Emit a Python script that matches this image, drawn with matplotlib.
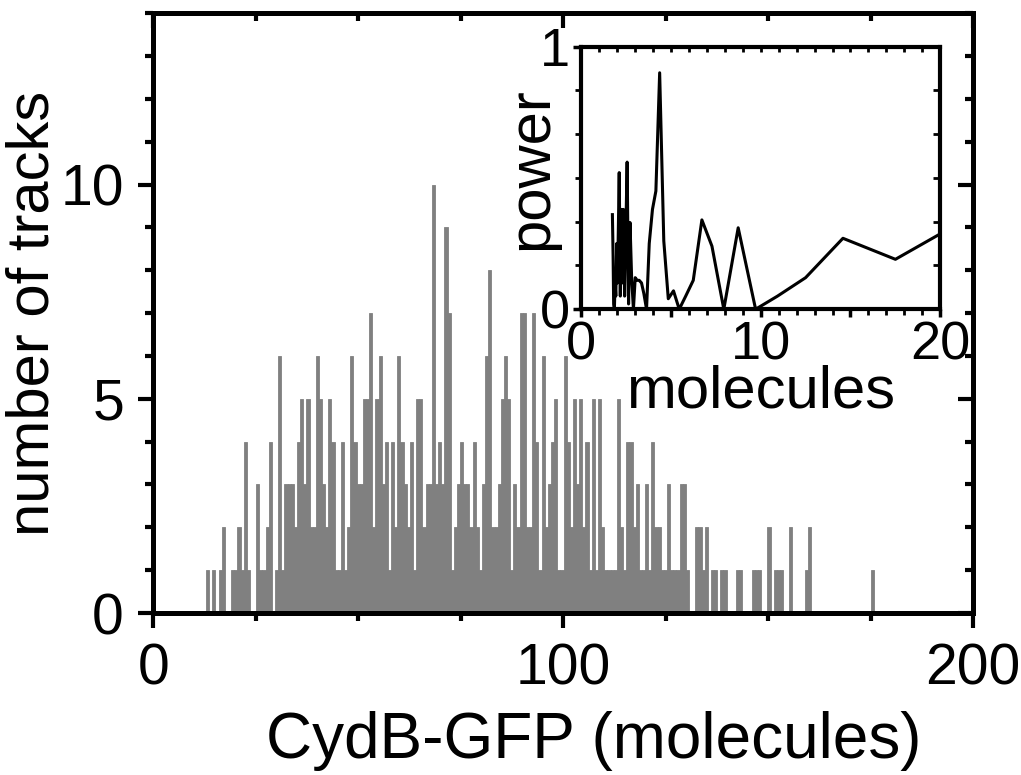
import matplotlib
matplotlib.use("Agg")
import matplotlib.pyplot as plt
import numpy as np

plt.rcParams['font.family'] = ['Liberation Sans', 'DejaVu Sans']

# histogram: counts per bin, bins start at 12.9 molecules, 0.765 wide
bin_start = 12.9
bin_width = 0.765
track_counts = [
    1, 0, 1, 0, 1, 2, 0, 0, 1, 1, 2, 1, 4, 1, 0, 0, 3, 1, 1, 2, 4, 0, 1, 6, 1,
    3, 3, 3, 2, 4, 5, 3, 5, 2, 2, 6, 5, 3, 2, 5, 4,
    1, 1, 4, 1, 2, 6, 4, 3, 3, 5, 5, 7, 2, 5, 6, 3, 4, 1, 4, 2, 6, 4, 3, 2, 4,
    1, 5, 5, 2, 3, 3, 10, 3, 4, 3, 9, 7, 1, 2, 3, 4, 3, 3,
    2, 4, 2, 1, 3, 6, 8, 2, 2, 3, 5, 6, 5, 1, 3, 2, 7, 7, 2, 2, 7, 4, 1, 6, 2,
    3, 4, 5, 1, 1, 6, 4, 2, 5, 3, 5, 2, 4, 1, 5, 1, 5, 2, 1,
    1, 1, 1, 5, 2, 1, 4, 4, 2, 3, 1, 1, 3, 1, 4, 2, 2, 1, 1, 3, 1, 1, 1, 3, 3,
    1, 0, 0, 2, 2, 1, 2, 0, 1, 1, 0, 1, 1, 0, 0, 0, 1, 1, 0, 0, 0, 1, 1, 1, 0,
    0, 2, 0, 1, 1, 1, 0, 0, 2, 0, 0, 0, 0, 1, 2,
    0, 0, 0, 0, 0, 0, 0, 0, 0, 0, 0, 0, 0, 0, 0, 0, 0, 0, 0, 1,
]

# inset: power spectrum
power_x = [1.75, 1.79, 1.82, 1.86, 1.90, 1.94, 1.99, 2.03, 2.08, 2.13, 2.19,
           2.24, 2.30, 2.36, 2.43, 2.50, 2.57, 2.65, 2.73, 2.82, 2.92, 3.02,
           3.13, 3.24, 3.37, 3.50, 3.65, 3.80, 3.98, 4.17, 4.38, 4.61, 4.86,
           5.15, 5.47, 5.83, 6.25, 6.73, 7.29, 7.95, 8.75, 9.72, 10.94, 12.50,
           14.58, 17.50, 21.88]
power_y = [0.36, 0.20, 0.02, 0.00, 0.10, 0.05, 0.25, 0.10, 0.30, 0.52, 0.05,
           0.38, 0.10, 0.38, 0.05, 0.30, 0.56, 0.02, 0.33, 0.12, 0.00, 0.12,
           0.11, 0.11, 0.10, 0.06, 0.00, 0.25, 0.38, 0.45, 0.90, 0.26, 0.04,
           0.07, 0.00, 0.05, 0.11, 0.34, 0.24, 0.00, 0.31, 0.00, 0.05, 0.12,
           0.27, 0.19, 0.36]

fig = plt.figure(figsize=(10.21, 7.75), dpi=100)

# main histogram
ax = fig.add_axes([0.150, 0.209, 0.803, 0.774])
left_edges = bin_start + bin_width * np.arange(len(track_counts))
ax.bar(left_edges, track_counts, width=bin_width, align='edge',
       color='#808080', edgecolor='#808080', linewidth=0.6, zorder=1)
ax.set_xlim(0, 200)
ax.set_ylim(0, 14)
for s in ax.spines.values():
    s.set_linewidth(3.6)
    s.set_zorder(5)

ax.set_xticks([0, 100, 200])
ax.set_xticks(np.arange(0, 201, 25), minor=True)
ax.set_yticks([0, 5, 10])
ax.set_yticks(np.arange(0, 15, 1), minor=True)
ax.tick_params(which='major', direction='out', length=11, width=3, labelsize=41, pad=10)
ax.tick_params(which='minor', direction='out', length=6, width=3)

# top/right ticks point inward
top = ax.secondary_xaxis('top')
top.set_xticks([0, 100, 200], labels=[])
top.set_xticks(np.arange(0, 201, 25), minor=True)
top.tick_params(which='major', direction='in', length=11, width=3)
top.tick_params(which='minor', direction='in', length=6, width=3)
top.spines['top'].set_visible(False)
right = ax.secondary_yaxis('right')
right.set_yticks([0, 5, 10], labels=[])
right.set_yticks(np.arange(0, 15, 1), minor=True)
right.tick_params(which='major', direction='in', length=11, width=3)
right.tick_params(which='minor', direction='in', length=6, width=3)
right.spines['right'].set_visible(False)

ax.set_xlabel("CydB-GFP (molecules)", fontsize=46, labelpad=11)
ax.xaxis.label.set_x(0.537)
ax.set_ylabel("number of tracks", fontsize=43, labelpad=0)

# inset
ins = fig.add_axes([0.569, 0.601, 0.352, 0.339])
ins.plot(power_x, power_y, color='black', linewidth=2.2)
ins.set_xlim(0, 20)
ins.set_ylim(0, 1)
for s in ins.spines.values():
    s.set_linewidth(3)
ins.set_xticks([0, 5, 10, 15, 20], labels=['0', '', '10', '', '20'])
ins.set_xticks(np.arange(0, 21, 1), minor=True)
ins.set_yticks([0, 1], labels=['0', '1'])
ins.set_yticks(np.arange(0, 1.01, 1 / 6), minor=True)
ins.tick_params(which='major', direction='out', length=6, width=2.5, labelsize=39, pad=2)
ins.tick_params(which='minor', direction='out', length=4, width=2)
itop = ins.secondary_xaxis('top')
itop.set_xticks(np.arange(0, 21, 1), labels=[])
itop.tick_params(direction='in', length=4, width=2)
itop.spines['top'].set_visible(False)
iright = ins.secondary_yaxis('right')
iright.set_yticks(np.arange(0, 1.01, 1 / 6), labels=[])
iright.tick_params(direction='in', length=5, width=2)
iright.spines['right'].set_visible(False)
ins.set_xlabel("molecules", fontsize=43, labelpad=-4)
ins.set_ylabel("power", fontsize=43, labelpad=-14)
ins.yaxis.label.set_y(0.534)

fig.savefig("out.png", dpi=100)
